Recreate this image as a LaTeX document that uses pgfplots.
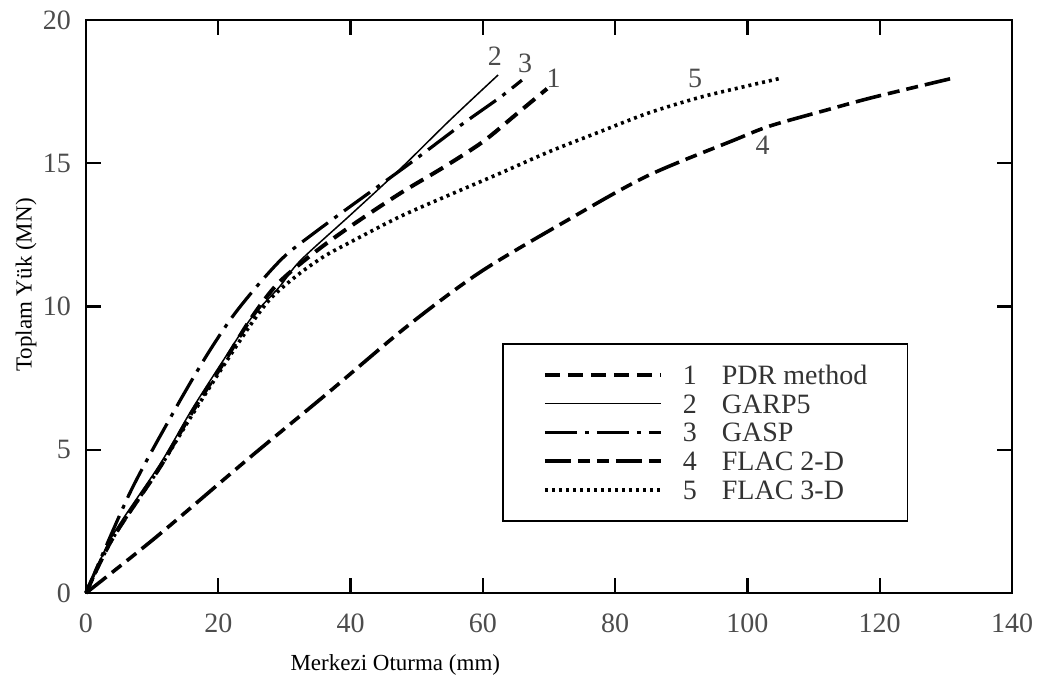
\documentclass[border=0pt]{standalone}
\usepackage{pgfplots}
\pgfplotsset{compat=1.18}
\usepackage{fontspec}
\setmainfont{Liberation Serif}
\begin{document}
\begin{tikzpicture}
\begin{axis}[
  scale only axis, width=463pt, height=286.5pt,
  xmin=0, xmax=140, ymin=0, ymax=20,
  xtick={0,20,...,140}, ytick={0,5,...,20},
  tick pos=both, tick align=inside, major tick length=7.5pt,
  axis line style={line width=1.2pt},
  every tick/.style={black, line width=1.2pt},
  /pgf/number format/assume math mode=true,
  tick label style={font=\fontsize{14}{16}\selectfont, text=black!70},
  xticklabel style={yshift=-7pt},
  yticklabel style={xshift=-4pt},
  xlabel={Merkezi Oturma (mm)}, ylabel={Toplam Yük (MN)},
  label style={font=\fontsize{11.5}{13}\selectfont},
  xlabel style={at={(axis description cs:0.334,-0.1257)}, anchor=center},
  ylabel style={at={(axis description cs:-0.0648,0.5375)}, anchor=center},
  clip=false,
  legend cell align=left,
  legend image code/.code={\draw[#1] (0pt,0pt) -- (58pt,0pt);},
  legend style={at={(axis cs:62.9,8.73)}, anchor=north west, draw=black, line width=0.9pt,
    font=\fontsize{14}{16}\selectfont, text=black!80,
    inner xsep=20pt, inner ysep=8.3pt, row sep=0pt, column sep=10pt,
    nodes={inner sep=0pt, text height=12pt, text depth=2.4pt}},
]
\addplot[black, smooth, tension=0.5, line width=2pt, dash pattern=on 7.5pt off 4pt] coordinates {
(0,0)(4,1.9)(11.2,4.4)(16,6.3)(20.7,8.0)(25,9.6)(29,10.8)(34.4,11.86)(40,12.8)(47.5,13.95)(54,14.85)(60,15.75)(65,16.7)(69.7,17.6)};
\addlegendentry{\makebox[19.5pt][l]{1}PDR method}
\addplot[black, smooth, tension=0.5, line width=0.75pt] coordinates {
(0,0)(4,2.0)(11.2,4.5)(16,6.4)(20.7,8.1)(25,9.6)(29.3,10.7)(32.4,11.6)(40,13.2)(47.5,14.8)(55,16.5)(62.3,18.08)};
\addlegendentry{\makebox[19.5pt][l]{2}GARP5}
\addplot[black, smooth, tension=0.5, line width=1.6pt, dash pattern=on 16pt off 4pt on 2pt off 4pt] coordinates {
(0,0)(6.65,3.5)(13.2,6.3)(18,8.2)(22,9.6)(26,10.75)(30,11.75)(34.4,12.55)(40,13.5)(49,15.0)(56.5,16.3)(62.6,17.3)(65.9,17.9)};
\addlegendentry{\makebox[19.5pt][l]{3}GASP}
\addplot[black, smooth, tension=0.5, line width=1.8pt, dash pattern=on 13pt off 3.5pt on 6pt off 3.5pt on 6pt off 3.5pt] coordinates {
(0,0)(10.7,1.97)(24.3,4.64)(36.4,6.95)(48.5,9.3)(59.6,11.2)(72.7,13.0)(84.8,14.55)(97.9,15.8)(103.4,16.3)(112,16.86)(119,17.3)(131.6,18.0)};
\addlegendentry{\makebox[19.5pt][l]{4}FLAC 2-D}
\addplot[black, smooth, tension=0.5, line width=1.8pt, dash pattern=on 1.5pt off 2pt] coordinates {
(0,0)(4,1.9)(11.2,4.4)(16,6.2)(20.7,7.9)(25,9.4)(28,10.3)(32,11.1)(36,11.75)(40,12.25)(47.5,13.14)(55,13.9)(62.6,14.65)(70,15.4)(77.7,16.1)(85,16.75)(92.8,17.3)(100,17.7)(104.9,17.96)};
\addlegendentry{\makebox[19.5pt][l]{5}FLAC 3-D}
\begin{scope}[every node/.style={font=\fontsize{14}{16}\selectfont, text=black!70}]
\node at (axis cs:61.8,18.72) {2};
\node at (axis cs:66.4,18.5) {3};
\node at (axis cs:70.7,17.96) {1};
\node at (axis cs:92.1,17.96) {5};
\node at (axis cs:102.3,15.64) {4};
\end{scope}
\end{axis}
\path (current axis.south west) ++(-43pt,-48.5pt) coordinate (bbsw);
\path (current axis.north east) ++(20pt,10pt) coordinate (bbne);
\path (bbsw) rectangle (bbne);
\end{tikzpicture}
\end{document}
